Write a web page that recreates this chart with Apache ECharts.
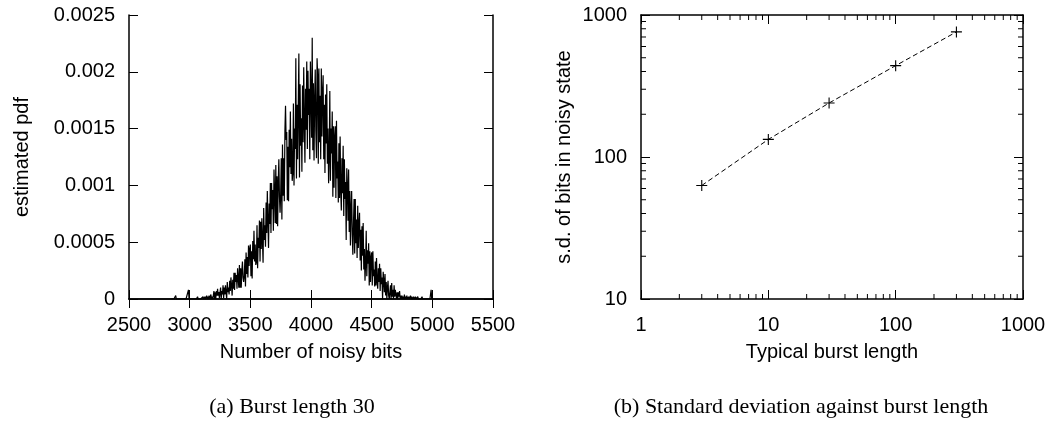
<!DOCTYPE html>
<html>
<head>
<meta charset="utf-8">
<script src="https://cdn.jsdelivr.net/npm/echarts@6/dist/echarts.min.js"></script>
<style>html,body{margin:0;padding:0;background:#fff}#c{width:1061px;height:435px}</style>
</head>
<body>
<div id="c"></div>
<script>
// ---- Panel (a): estimated pdf of number of noisy bits (burst length 30) ----
const binStart = 2850;   // first bin (number of noisy bits)
const binStep = 5;       // bin spacing
// estimated pdf, in units of 1e-5 (one row = 50 bits)
const pdfE5 = [
  0,0,0,0,0,0,0,3,0,0,                 // 2850
  0,0,0,0,0,0,0,0,0,0,                 // 2900
  0,0,0,0,0,0,0,0,8,0,                 // 2950
  0,0,0,0,0,0,0,0,0,0,                 // 3000
  0,0,0,2,0,0,0,0,0,0,                 // 3050
  0,0,2,0,0,2,0,0,3,0,                 // 3100
  2,0,3,0,2,4,0,2,0,3,                 // 3150
  7,0,6,0,7,3,9,3,6,1,                 // 3200
  1,10,0,7,4,12,1,10,4,12,             // 3250
  12,0,15,6,10,4,16,7,19,12,           // 3300
  3,17,9,23,8,23,15,21,9,27,           // 3350
  19,10,30,10,27,10,25,33,19,15,       // 3400
  20,35,11,41,22,37,19,47,29,44,       // 3450
  48,20,42,18,51,35,60,33,48,30,       // 3500
  32,65,27,54,45,69,33,68,44,71,       // 3550
  70,32,80,52,65,46,85,58,95,68,       // 3600
  45,84,66,102,58,102,79,96,60,114,    // 3650
  93,67,118,66,108,64,103,123,90,76,   // 3700
  92,124,70,136,91,124,86,148,170,140, // 3750
  147,87,134,86,149,116,165,110,141,104,   // 3800
  111,172,100,150,132,212,106,171,123,171, // 3850
  216,107,189,135,159,112,188,138,204,155, // 3900
  120,185,149,209,132,201,162,185,123,209, // 3950
  182,142,230,131,190,122,175,202,148,124, // 4000
  212,197,119,203,138,179,123,203,143,182, // 4050
  197,123,171,111,180,137,189,119,150,102, // 4100
  125,183,104,150,128,165,90,152,98,143,   // 4150
  152,89,157,106,121,85,137,89,143,95,     // 4200
  78,124,93,135,73,123,88,103,52,115,      // 4250
  99,69,114,59,95,47,80,95,57,39,      // 4300
  66,88,40,88,49,70,36,82,45,66,       // 4350
  76,34,61,25,64,38,67,26,44,16,       // 4400
  31,60,20,43,31,49,12,42,15,37,       // 4450
  41,12,42,20,26,11,33,12,36,15,       // 4500
  9,27,15,31,7,27,13,19,0,24,          // 4550
  16,6,22,3,15,0,10,16,3,0,            // 4600
  6,12,0,14,2,8,0,12,2,8,              // 4650
  8,0,6,0,6,2,7,0,3,0,                 // 4700
  3,0,2,0,4,0,2,0,3,0,                 // 4750
  0,2,0,0,3,0,2,0,0,2,                 // 4800
  0,0,2,0,0,0,2,0,0,0,                 // 4850
  0,0,0,2,0,0,0,0,0,0,                 // 4900
  0,0,0,0,0,0,0,0,8,0,                 // 4950
  0                                    // 5000
];
const xTicksA = [2500, 3000, 3500, 4000, 4500, 5000, 5500];
const yTicksA = [0, 0.0005, 0.001, 0.0015, 0.002, 0.0025];

// ---- Panel (b): standard deviation against burst length ----
const burstLengths = [3, 10, 30, 100, 300];
const sdValues = [63, 133, 240, 440, 760];
const xMinorB = [2,3,4,5,6,7,8,9,20,30,40,50,60,70,80,90,200,300,400,500,600,700,800,900];
const yMinorB = [20,30,40,50,60,70,80,90,200,300,400,500,600,700,800,900];

const pdfData = pdfE5.map((v, i) => [binStart + i * binStep, v * 1e-5]);

const SANS = 'Liberation Sans, Arial, sans-serif';
const SERIF = 'Liberation Serif, Times New Roman, serif';
const lab = {color: '#000', fontFamily: SANS, fontSize: 20};
const axLine = {show: true, lineStyle: {color: '#000', width: 1.5}};
const tick = {inside: true, length: 9, lineStyle: {color: '#000', width: 1}};
const fmtNum = v => String(v);

function minorXTicks(params, api) {
  const v = api.value(0);
  const b = api.coord([v, 10]);
  const t = api.coord([v, 1000]);
  return {type: 'group', children: [
    {type: 'line', shape: {x1: b[0], y1: b[1], x2: b[0], y2: b[1] - 5}, style: {stroke: '#000', lineWidth: 1}},
    {type: 'line', shape: {x1: t[0], y1: t[1], x2: t[0], y2: t[1] + 5}, style: {stroke: '#000', lineWidth: 1}}
  ]};
}
function minorYTicks(params, api) {
  const v = api.value(1);
  const l = api.coord([1, v]);
  const r = api.coord([1000, v]);
  return {type: 'group', children: [
    {type: 'line', shape: {x1: l[0], y1: l[1], x2: l[0] + 5, y2: l[1]}, style: {stroke: '#000', lineWidth: 1}},
    {type: 'line', shape: {x1: r[0], y1: r[1], x2: r[0] - 5, y2: r[1]}, style: {stroke: '#000', lineWidth: 1}}
  ]};
}

const chart = echarts.init(document.getElementById('c'), null, {renderer: 'canvas'});
chart.setOption({
  animation: false,
  backgroundColor: '#fff',
  grid: [
    {left: 129, top: 15, width: 364, height: 284},
    {left: 641, top: 15, width: 382, height: 284}
  ],
  xAxis: [
    {gridIndex: 0, type: 'value', min: xTicksA[0], max: xTicksA[xTicksA.length - 1], interval: 500,
     position: 'bottom', axisLine: axLine, splitLine: {show: false}, axisTick: tick,
     axisLabel: Object.assign({margin: 16, formatter: fmtNum}, lab),
     name: 'Number of noisy bits', nameLocation: 'middle', nameGap: 43,
     nameTextStyle: {color: '#000', fontFamily: SANS, fontSize: 20}},
    {gridIndex: 0, type: 'value', min: xTicksA[0], max: xTicksA[xTicksA.length - 1], interval: 500,
     position: 'top', axisLine: axLine, splitLine: {show: false}, axisTick: tick,
     axisLabel: {show: false}},
    {gridIndex: 1, type: 'log', logBase: 10, min: 1, max: 1000,
     position: 'bottom', axisLine: axLine, splitLine: {show: false}, axisTick: tick,
     axisLabel: Object.assign({margin: 16, formatter: fmtNum}, lab),
     name: 'Typical burst length', nameLocation: 'middle', nameGap: 43,
     nameTextStyle: {color: '#000', fontFamily: SANS, fontSize: 20}},
    {gridIndex: 1, type: 'log', logBase: 10, min: 1, max: 1000,
     position: 'top', axisLine: axLine, splitLine: {show: false}, axisTick: tick,
     axisLabel: {show: false}}
  ],
  yAxis: [
    {gridIndex: 0, type: 'value', min: yTicksA[0], max: yTicksA[yTicksA.length - 1], interval: 0.0005,
     position: 'left', axisLine: axLine, splitLine: {show: false}, axisTick: tick,
     axisLabel: Object.assign({margin: 14, formatter: fmtNum}, lab),
     name: 'estimated pdf', nameLocation: 'middle', nameGap: 97, nameRotate: 90,
     nameTextStyle: {color: '#000', fontFamily: SANS, fontSize: 20}},
    {gridIndex: 0, type: 'value', min: yTicksA[0], max: yTicksA[yTicksA.length - 1], interval: 0.0005,
     position: 'right', axisLine: axLine, splitLine: {show: false}, axisTick: tick,
     axisLabel: {show: false}},
    {gridIndex: 1, type: 'log', logBase: 10, min: 10, max: 1000,
     position: 'left', axisLine: axLine, splitLine: {show: false}, axisTick: tick,
     axisLabel: Object.assign({margin: 14, formatter: fmtNum}, lab),
     name: 's.d. of bits in noisy state', nameLocation: 'middle', nameGap: 67, nameRotate: 90,
     nameTextStyle: {color: '#000', fontFamily: SANS, fontSize: 20}},
    {gridIndex: 1, type: 'log', logBase: 10, min: 10, max: 1000,
     position: 'right', axisLine: axLine, splitLine: {show: false}, axisTick: tick,
     axisLabel: {show: false}}
  ],
  series: [
    {type: 'line', xAxisIndex: 0, yAxisIndex: 0, data: pdfData, showSymbol: false, symbol: 'none',
     sampling: null, lineStyle: {color: '#000', width: 1.2}, silent: true},
    {type: 'line', xAxisIndex: 2, yAxisIndex: 2, data: burstLengths.map((b, i) => [b, sdValues[i]]),
     symbol: 'path://M0,4.5H10V5.5H0Z M4.5,0H5.5V10H4.5Z', symbolSize: 11,
     itemStyle: {color: '#000'},
     lineStyle: {color: '#000', width: 1, type: [5, 3]}, silent: true},
    {type: 'custom', xAxisIndex: 2, yAxisIndex: 2, renderItem: minorXTicks, clip: false, silent: true,
     data: xMinorB.map(v => [v, 10])},
    {type: 'custom', xAxisIndex: 2, yAxisIndex: 2, renderItem: minorYTicks, clip: false, silent: true,
     data: yMinorB.map(v => [1, v])}
  ],
  graphic: [
    {type: 'text', x: 292, y: 407, style: {text: '(a) Burst length 30', font: '22px ' + SERIF,
      fill: '#000', textAlign: 'center', textVerticalAlign: 'middle'}},
    {type: 'text', x: 801, y: 407, style: {text: '(b) Standard deviation against burst length', font: '22px ' + SERIF,
      fill: '#000', textAlign: 'center', textVerticalAlign: 'middle'}}
  ]
});
</script>
</body>
</html>
